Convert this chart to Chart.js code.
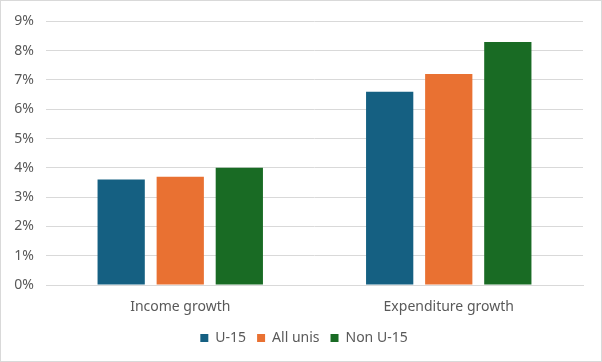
<!DOCTYPE html>
<html>
<head>
<meta charset="utf-8">
<script src="https://cdn.jsdelivr.net/npm/chart.js@4"></script>
<style>
  html, body { margin: 0; padding: 0; background: #ffffff; }
  #moldura {
    width: 602px;
    height: 362px;
    box-sizing: border-box;
    border: 1px solid #d9d9d9;
  }
</style>
</head>
<body>
<div id="moldura">
  <canvas id="grafico" width="600" height="360"></canvas>
</div>
<script>
// Dados
const categorias = ["Income growth", "Expenditure growth"];
const u15 = [3.6, 6.6];
const todasUnis = [3.7, 7.2];
const naoU15 = [4.0, 8.3];
const ticksY = [0, 1, 2, 3, 4, 5, 6, 7, 8, 9];

const corTexto = "#595959";
const corGrade = "#d9d9d9";
const fonte = { family: "'Noto Sans', sans-serif", size: 14 };

// Desloca a legenda para a direita (no original ela fica centrada na página)
const deslocaLegenda = {
  id: "deslocaLegenda",
  afterLayout: function (chart) {
    chart.legend.left += 12;
    chart.legend.right += 12;
  },
};

function gerarGrafico() {
  const ctx = document.getElementById("grafico").getContext("2d");
  new Chart(ctx, {
    type: "bar",
    data: {
      labels: categorias,
      datasets: [
        { label: "U-15", data: u15, backgroundColor: "#156082" },
        { label: "All unis", data: todasUnis, backgroundColor: "#e97132" },
        { label: "Non U-15", data: naoU15, backgroundColor: "#196b24" },
      ],
    },
    options: {
      responsive: false,
      animation: false,
      datasets: {
        bar: { categoryPercentage: 0.66, barPercentage: 0.8 },
      },
      layout: { padding: { top: 14, right: 18, bottom: 6, left: 0 } },
      plugins: {
        tooltip: { enabled: false },
        legend: {
          position: "bottom",
          labels: {
            color: corTexto,
            font: fonte,
            boxWidth: 8,
            boxHeight: 8,
            padding: 11,
          },
        },
      },
      scales: {
        x: {
          // altura fixa do eixo x para posicionar a área do gráfico
          afterFit: function (escala) { escala.height = 35; },
          grid: { display: false, drawTicks: false },
          border: { color: corGrade, width: 1 },
          ticks: { color: corTexto, font: fonte, padding: 14 },
        },
        y: {
          min: 0,
          max: 9,
          afterFit: function (escala) { escala.width = 45; },
          afterBuildTicks: function (escala) {
            escala.ticks = ticksY.map((v) => ({ value: v }));
          },
          grid: { color: corGrade, lineWidth: 1, drawTicks: false },
          border: { display: false },
          ticks: {
            color: corTexto,
            font: fonte,
            padding: 12,
            callback: (v) => v + "%",
          },
        },
      },
    },
    plugins: [deslocaLegenda],
  });
}

gerarGrafico();
</script>
</body>
</html>
